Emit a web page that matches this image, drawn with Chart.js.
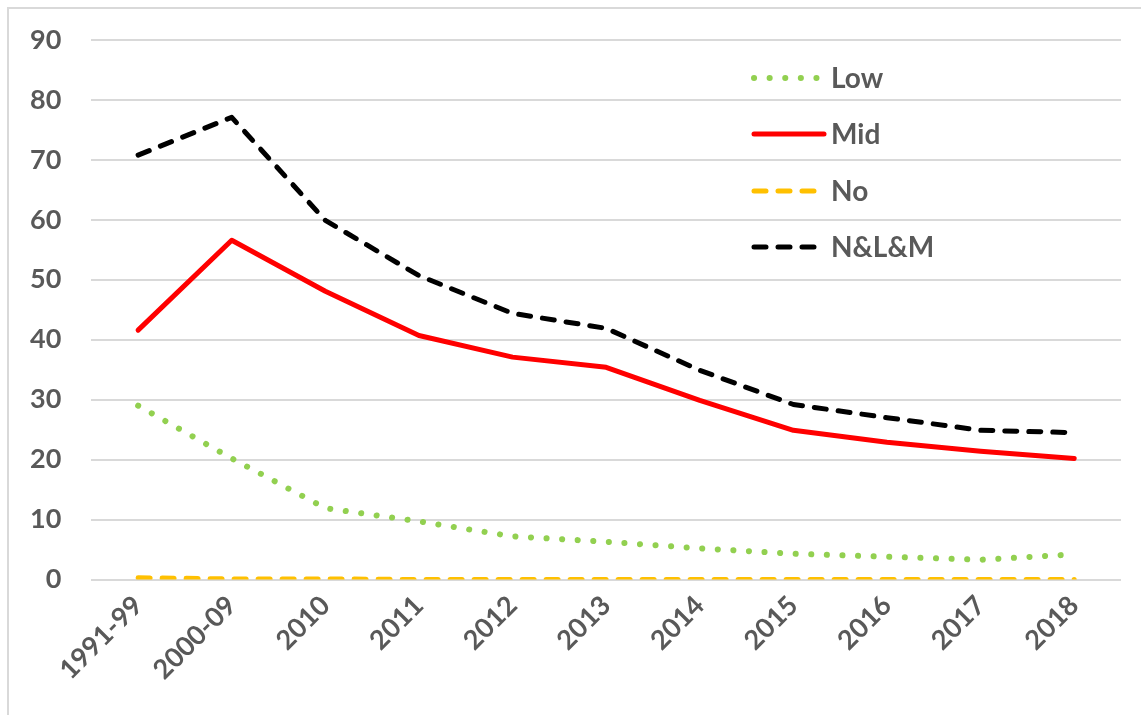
<!DOCTYPE html>
<html>
<head>
<meta charset="utf-8">
<script src="https://cdn.jsdelivr.net/npm/chart.js@4/dist/chart.umd.min.js"></script>
<style>
  html, body { margin: 0; padding: 0; background: #fff; overflow: hidden; }
  #frame { position: absolute; left: 7px; top: 7px; width: 1150px; height: 720px;
           border-top: 2px solid #d9d9d9; border-left: 2px solid #d9d9d9; }
  #wrap { position: absolute; left: 0; top: 0; width: 1141px; height: 715px; }
</style>
</head>
<body>
<div id="frame"></div>
<div id="wrap"><canvas id="myChart" width="1141" height="715"></canvas></div>
<script>
const years = ["1991-99", "2000-09", "2010", "2011", "2012", "2013", "2014", "2015", "2016", "2017", "2018"];
const lowVals = [29.0, 20.2, 11.9, 9.7, 7.2, 6.3, 5.2, 4.3, 3.8, 3.3, 4.2];
const midVals = [41.6, 56.6, 48.1, 40.7, 37.1, 35.4, 29.9, 24.9, 22.9, 21.4, 20.2];
const noVals = [0.3, 0.1, 0.1, 0.0, 0.0, 0.0, 0.0, 0.0, 0.0, 0.0, 0.0];
const allVals = [70.8, 77.1, 59.9, 50.7, 44.4, 41.9, 34.9, 29.2, 27.0, 24.9, 24.5];
const seriesNames = ["Low", "Mid", "No", "N&L&M"];

const textColor = "#595959";
const fontFamily = "Lato, 'Open Sans', sans-serif";

// legend drawn inside the plot, top right, like the Excel original
const insideLegend = {
  id: "insideLegend",
  afterDatasetsDraw(chart) {
    const ctx = chart.ctx;
    const x0 = 754, x1 = 824, rowY = [78, 134, 191, 247];
    chart.data.datasets.forEach((ds, i) => {
      const y = rowY[i];
      ctx.save();
      ctx.strokeStyle = ds.borderColor;
      ctx.lineWidth = ds.borderWidth;
      ctx.lineCap = "round";
      ctx.setLineDash(ds.borderDash || []);
      ctx.beginPath();
      ctx.moveTo(x0, y);
      ctx.lineTo(x1, y);
      ctx.stroke();
      ctx.setLineDash([]);
      ctx.fillStyle = textColor;
      ctx.font = "bold 28px " + fontFamily;
      ctx.textBaseline = "middle";
      ctx.fillText(ds.label, 831, y + 1);
      ctx.restore();
    });
  }
};

new Chart(document.getElementById("myChart"), {
  type: "line",
  data: {
    labels: years,
    datasets: [
      { label: seriesNames[0], data: lowVals, borderColor: "#92D050", borderWidth: 6, borderDash: [0.1, 15.5], borderCapStyle: "round" },
      { label: seriesNames[1], data: midVals, borderColor: "#FF0000", borderWidth: 5, borderCapStyle: "round" },
      { label: seriesNames[2], data: noVals, borderColor: "#FFC000", borderWidth: 5, borderDash: [12, 12], borderCapStyle: "round" },
      { label: seriesNames[3], data: allVals, borderColor: "#000000", borderWidth: 5, borderDash: [12, 12], borderCapStyle: "round" }
    ]
  },
  options: {
    responsive: false,
    animation: false,
    layout: { padding: { left: 0, right: 20, top: 40, bottom: 19 } },
    elements: { point: { radius: 0 }, line: { tension: 0, borderJoinStyle: "round" } },
    plugins: { legend: { display: false }, tooltip: { enabled: false } },
    scales: {
      x: {
        offset: true,
        grid: { display: false, drawTicks: false },
        border: { display: false },
        ticks: {
          color: textColor, maxRotation: 45, minRotation: 45, padding: 10,
          font: { family: fontFamily, size: 27, weight: "bold" }
        }
      },
      y: {
        min: 0, max: 90,
        afterFit(scale) { scale.paddingTop = 0; },
        ticks: {
          stepSize: 10, color: textColor, padding: 30,
          font: { family: fontFamily, size: 27, weight: "bold" }
        },
        grid: { color: "#d9d9d9", lineWidth: 2, drawTicks: false },
        border: { display: false }
      }
    }
  },
  plugins: [insideLegend]
});
</script>
</body>
</html>
